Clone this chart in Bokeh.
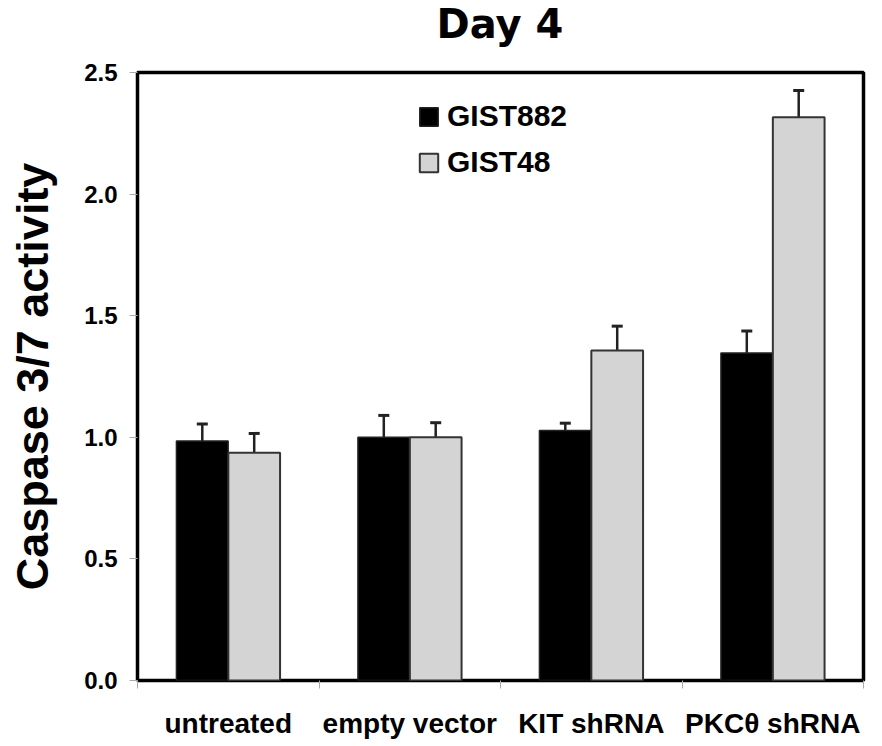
from bokeh.plotting import figure
from bokeh.models import (Range1d, FixedTicker, Whisker, TeeHead, ColumnDataSource,
                          Legend, LegendItem, NumeralTickFormatter, Div)
from bokeh.layouts import column
from bokeh.embed import file_html
from bokeh.resources import INLINE

# ---- data ----
categories = ["untreated", "empty vector", "KIT shRNA", "PKC\u03b8 shRNA"]
series_names = ["GIST882", "GIST48"]
gist882 = [0.985, 1.00, 1.028, 1.347]
gist882_err = [0.07, 0.09, 0.03, 0.09]
gist48 = [0.936, 1.00, 1.357, 2.316]
gist48_err = [0.08, 0.06, 0.10, 0.11]
y_ticks = [0.0, 0.5, 1.0, 1.5, 2.0, 2.5]
title_text = "Day 4"
y_label = "Caspase 3/7 activity"

FONT = "Liberation Sans"
n = len(categories)
offset = 0.143
bar_w = 0.285
y_max = 2.5

TITLE_H = 48
p = figure(width=880, height=744 - TITLE_H, output_backend="svg", toolbar_location=None,
           x_range=Range1d(0, n), y_range=Range1d(0, y_max),
           min_border_left=137, min_border_right=17, min_border_top=72 - TITLE_H,
           min_border_bottom=64)
p.grid.visible = False
p.outline_line_color = "black"
p.outline_line_width = 3.5
p.background_fill_color = "white"
p.border_fill_color = "white"

centers = [i + 0.5 for i in range(n)]
src882 = ColumnDataSource(dict(x=[c - offset for c in centers], top=gist882,
                               up=[v + e for v, e in zip(gist882, gist882_err)]))
src48 = ColumnDataSource(dict(x=[c + offset for c in centers], top=gist48,
                              up=[v + e for v, e in zip(gist48, gist48_err)]))

r1 = p.vbar(x="x", top="top", width=bar_w, bottom=0, source=src882,
            fill_color="black", line_color="#222222", line_width=1.5)
r2 = p.vbar(x="x", top="top", width=bar_w, bottom=0, source=src48,
            fill_color="#d4d4d4", line_color="#333333", line_width=2)

for s in (src882, src48):
    w = Whisker(base="x", lower="top", upper="up", source=s, dimension="height",
                line_color="#222222", line_width=2.5,
                upper_head=TeeHead(size=11, line_width=3, line_color="#222222"),
                lower_head=None)
    p.add_layout(w)

# axes
xa = p.xaxis[0]
xa.ticker = FixedTicker(ticks=centers, minor_ticks=[float(i) for i in range(n + 1)])
xa.major_label_overrides = {c: lab for c, lab in zip(centers, categories)}
xa.major_tick_out = 0
xa.major_tick_in = 0
xa.minor_tick_out = 8
xa.minor_tick_in = 0
xa.minor_tick_line_color = "#aaaaaa"
xa.axis_line_color = None
xa.major_label_text_font = FONT
xa.major_label_text_font_style = "bold"
xa.major_label_text_font_size = "28px"
xa.major_label_text_color = "black"
xa.major_label_standoff = 19

ya = p.yaxis[0]
ya.ticker = FixedTicker(ticks=y_ticks)
ya.formatter = NumeralTickFormatter(format="0.0")
ya.major_tick_out = 8
ya.major_tick_in = 0
ya.minor_tick_out = 0
ya.minor_tick_in = 0
ya.major_tick_line_color = "#aaaaaa"
ya.axis_line_color = None
ya.major_label_text_font = FONT
ya.major_label_text_font_style = "bold"
ya.major_label_text_font_size = "24px"
ya.major_label_text_color = "black"
ya.major_label_standoff = 12
ya.axis_label = y_label
ya.axis_label_text_font = FONT
ya.axis_label_text_font_style = "bold"
ya.axis_label_text_font_size = "45px"
ya.axis_label_text_color = "black"
ya.axis_label_standoff = 23

# legend
legend = Legend(items=[LegendItem(label=series_names[0], renderers=[r1]),
                       LegendItem(label=series_names[1], renderers=[r2])],
                location=(280, 501), orientation="vertical",
                glyph_width=23, glyph_height=23, label_height=23, spacing=12,
                label_standoff=7, padding=0, margin=0,
                border_line_color=None, background_fill_alpha=0,
                label_text_font=FONT, label_text_font_style="bold",
                label_text_font_size="30px", label_text_color="black")
p.add_layout(legend, "center")

# title above the plot frame (centred over the frame)
title = Div(text=title_text, width=880, height=TITLE_H, margin=0,
            styles={"text-align": "center", "text-indent": "120px",
                    "font-family": "DejaVu Sans", "font-weight": "bold",
                    "font-size": "40px", "line-height": "48px", "color": "black",
                    "height": "48px", "overflow": "hidden", "padding": "0",
                    "background-color": "white"})

layout = column(title, p, spacing=0)
open("out.html", "w").write(file_html(layout, INLINE))
